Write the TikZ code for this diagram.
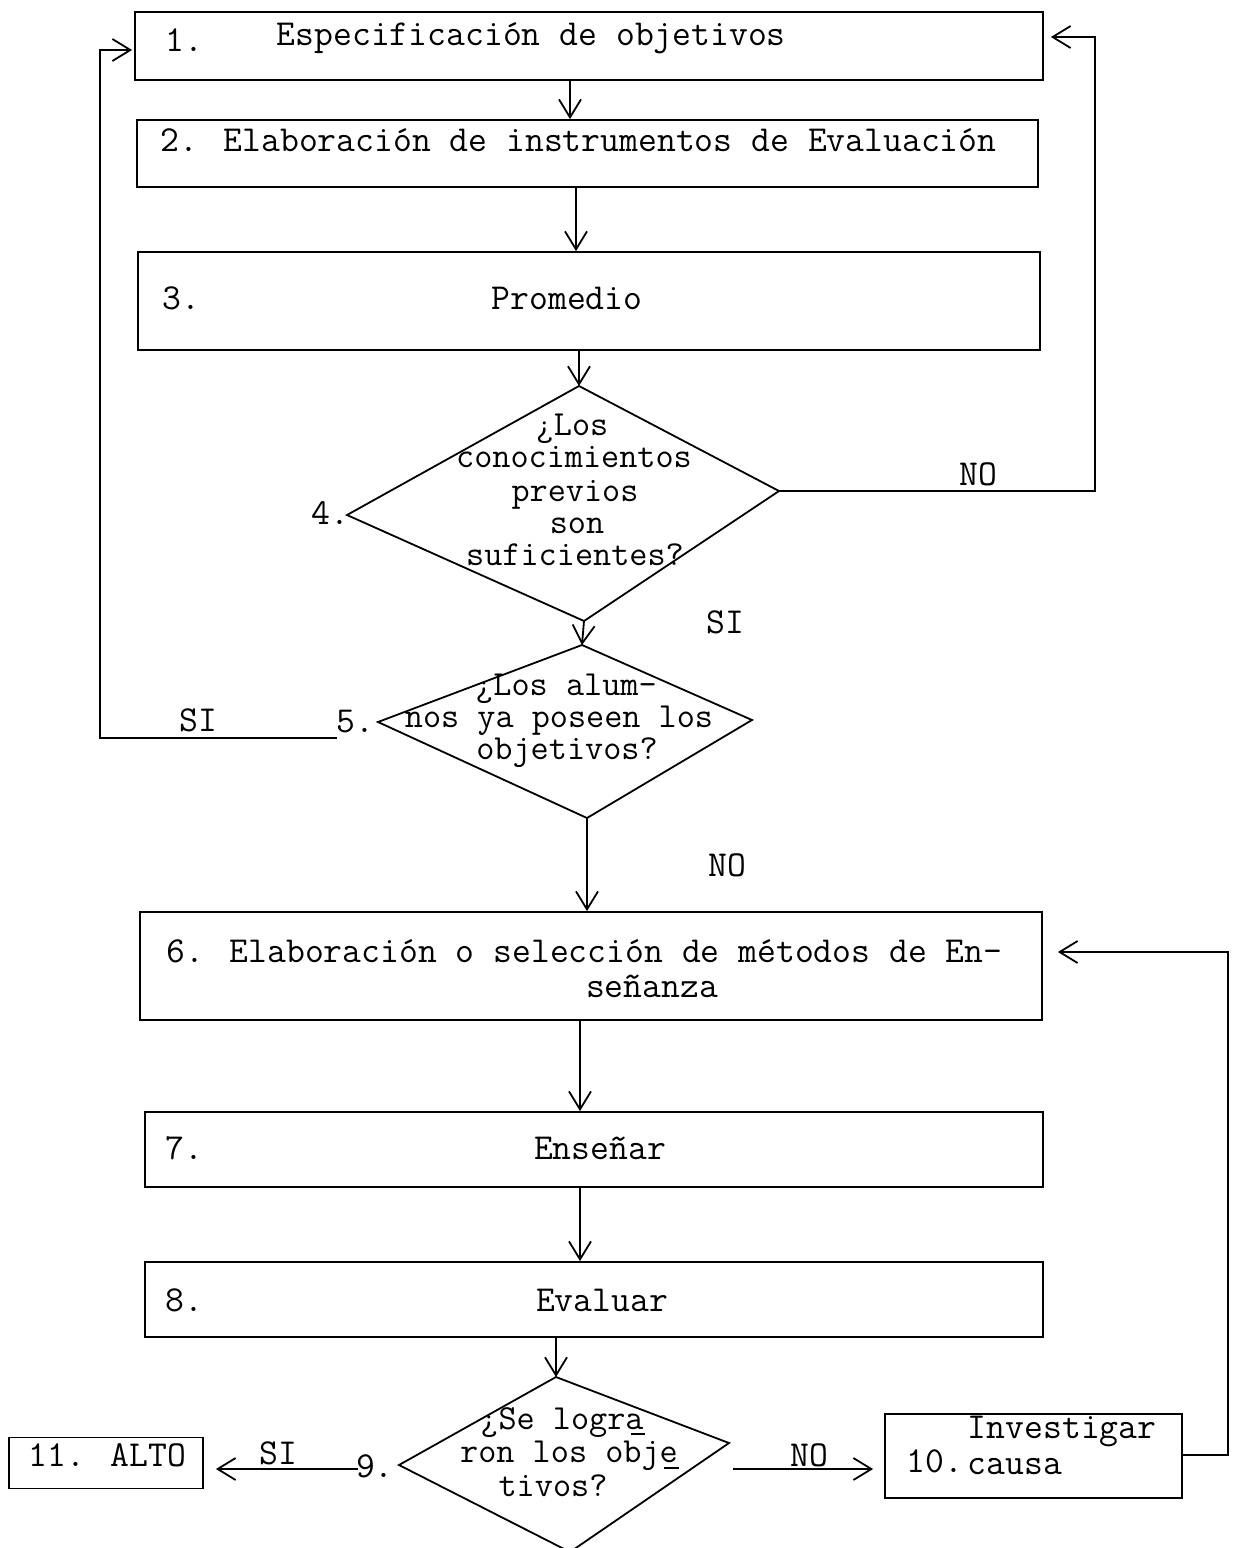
\documentclass[tikz,border=0pt]{standalone}
\usepackage{fontspec}
\usetikzlibrary{arrows.meta}
\newcommand{\typefont}{\ttfamily\fontsize{18.3}{16}\selectfont}
\newcommand{\qfont}{\ttfamily\fontsize{17.6}{16}\selectfont}
\begin{document}
\begin{tikzpicture}[x=0.5pt,y=-0.5pt,
  line width=0.9pt,
  box/.style={draw, inner sep=0pt},
  btxt/.style={inner sep=0pt, anchor=west, font=\typefont},
  ctxt/.style={inner sep=0pt, font=\typefont},
  qtxt/.style={inner sep=0pt, anchor=base, font=\qfont},
  lbl/.style={inner sep=0pt, font=\typefont},
  arr/.style={-{Straight Barb[length=9pt,width=11pt,line width=0.9pt]}},
  hyph/.style={line width=0.7pt}]

\fill[white] (0,0) rectangle (1240,1548);
\useasboundingbox (0,0) rectangle (1240,1548);

% process boxes
\node[box, minimum width=454pt,   minimum height=34pt]   (b1)  at (589,46) {};
\node[box, minimum width=450.5pt, minimum height=33.5pt] (b2)  at (587.5,153.5) {};
\node[box, minimum width=451pt,   minimum height=49pt]   (b3)  at (589,301) {};
\node[box, minimum width=451pt,   minimum height=54pt]   (b6)  at (591,966) {};
\node[box, minimum width=449pt,   minimum height=37.5pt] (b7)  at (594,1149.5) {};
\node[box, minimum width=449pt,   minimum height=37.5pt] (b8)  at (594,1299.5) {};
\node[box, minimum width=148.5pt, minimum height=42pt]   (b10) at (1033.5,1456) {};
\node[box, minimum width=97pt,    minimum height=25.5pt] (b11) at (106,1463) {};

% box texts
\node[btxt] (t1a) at (165,40) {1.};
\node[btxt] (t1b) at (276,38) {Especificación de objetivos};
\node[btxt] (t2)  at (160,140) {2. Elaboración de instrumentos de Evaluación};
\node[btxt] (t3a) at (162,298) {3.};
\node[ctxt] (t3b) at (567,298) {Promedio};
\node[btxt] (t6a) at (166,951) {6. Elaboración o selección de métodos de En-};
\node[ctxt] (t6b) at (652,986) {señanza};
\node[btxt] (t7a) at (165,1148) {7.};
\node[ctxt] (t7b) at (600,1148) {Enseñar};
\node[btxt] (t8a) at (165,1300) {8.};
\node[ctxt] (t8b) at (602,1300) {Evaluar};
\node[lbl, anchor=west] (t10a) at (906,1461) {10.};
\node[lbl, anchor=west] (t10b) at (967,1431) {Investigar};
\node[lbl, anchor=west] (t10c) at (967,1467) {causa};
\node[lbl, anchor=west] (t11) at (28,1455) {11. ALTO};

% decision 4
\coordinate (d4t) at (579,386);
\coordinate (d4r) at (779,491);
\coordinate (d4b) at (584,621);
\coordinate (d4l) at (347,515);
\draw (d4t) -- (d4r) -- (d4b) -- (d4l) -- cycle;
\node[qtxt] (q4a) at (572,435) {¿Los};
\node[qtxt] (q4b) at (574,467) {conocimientos};
\node[qtxt] (q4c) at (575,501) {previos};
\node[qtxt] (q4d) at (577,533) {son};
\node[qtxt] (q4e) at (575,565) {suficientes?};
\node[lbl] (n4) at (330,513) {4.};

% decision 5
\coordinate (d5t) at (582,645);
\coordinate (d5r) at (752,720);
\coordinate (d5b) at (587,818);
\coordinate (d5l) at (378,722);
\draw (d5t) -- (d5r) -- (d5b) -- (d5l) -- cycle;
\node[qtxt] (q5a) at (566,695) {¿Los alum-};
\node[qtxt] (q5b) at (559,727) {nos ya poseen los};
\node[qtxt] (q5c) at (567,759) {objetivos?};
\node[lbl] (n5) at (355,722) {5.};

% decision 9
\coordinate (d9t) at (556,1377);
\coordinate (d9r) at (729,1443);
\coordinate (d9b) at (570,1552);
\coordinate (d9l) at (399,1465);
\draw (d9t) -- (d9r) -- (d9b) -- (d9l) -- cycle;
\node[qtxt] (d9a) at (562,1429) {¿Se logra};
\node[qtxt] (d9c) at (569,1462) {ron los obje};
\node[qtxt] (d9e) at (553,1496) {tivos?};
% typed hyphens under the broken words
\draw[hyph] ([xshift=-6.5pt,yshift=-2.5pt]d9a.base east) -- ([xshift=0.5pt,yshift=-2.5pt]d9a.base east);
\draw[hyph] ([xshift=-7.5pt,yshift=-3pt]d9c.base east) -- ([xshift=0pt,yshift=-3pt]d9c.base east);
\node[lbl] (n9) at (375,1466) {9.};

% branch labels
\node[lbl] (no4)  at (978,474)  {NO};
\node[lbl] (si4)  at (725,622)  {SI};
\node[lbl] (si5)  at (198,720)  {SI};
\node[lbl] (no5)  at (727,865)  {NO};
\node[lbl] (si9)  at (278,1453) {SI};
\node[lbl] (no9)  at (809,1455) {NO};

% main flow
\draw[arr] ([xshift=-9.5pt]b1.south) -- ([xshift=-9.5pt]b1.south |- b2.north);
\draw[arr] ([xshift=-5.75pt]b2.south) -- ([xshift=-5.75pt]b2.south |- b3.north);
\draw[arr] (d4t |- b3.south) -- (d4t);
\draw[arr] (d4b) -- (d5t);
\draw[arr] (d5b) -- (d5b |- b6.north);
\draw[arr] ([xshift=-5.5pt]b6.south) -- ([xshift=-5.5pt]b6.south |- b7.north);
\draw[arr] ([xshift=-7pt]b7.south) -- ([xshift=-7pt]b7.south |- b8.north);
\draw[arr] (d9t |- b8.south) -- (d9t);

% loop back on NO from decision 4
\coordinate (r1) at (1095,491);
\coordinate (r2) at (1095,37);
\draw[arr] (d4r) -- (r1) -- (r2) -- ([xshift=3.5pt]b1.east |- r2);

% loop back on SI from decision 5
\coordinate (s5) at (337,738);
\coordinate (l1) at (100,738);
\coordinate (l2) at (100,50);
\draw[arr] (s5) -- (l1) -- (l2) -- ([xshift=-1pt]b1.west |- l2);

% outcomes of decision 9
\coordinate (s9) at (358,1469);
\draw[arr] (s9) -- ([xshift=6pt]b11.east |- s9);
\coordinate (s9r) at (733,1469);
\draw[arr] (s9r) -- ([xshift=-5.5pt]b10.west |- s9r);

% loop back from 10 to 6
\coordinate (q1) at (1228,1455);
\coordinate (q2) at (1228,952);
\draw[arr] (b10.east |- q1) -- (q1) -- (q2) -- ([xshift=7.5pt]b6.east |- q2);
\end{tikzpicture}
\end{document}
